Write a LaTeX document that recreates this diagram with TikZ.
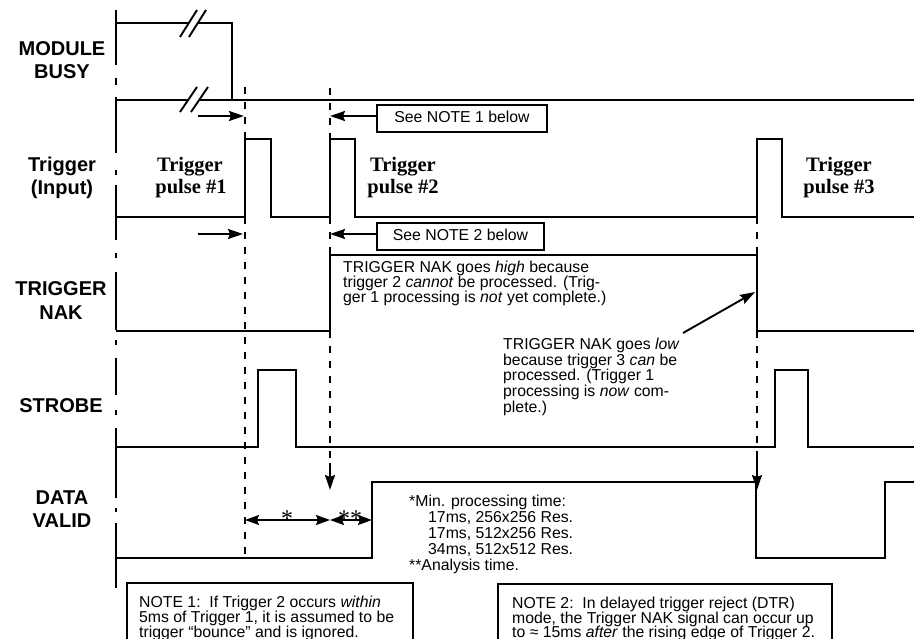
\documentclass[tikz,border=0pt]{standalone}
\usepackage{fontspec}
\setmainfont{Liberation Sans}
\newfontfamily\tmsfont{Liberation Serif}
\usetikzlibrary{arrows.meta}
\begin{document}
\begin{tikzpicture}[x=1pt,y=-1pt,
  sig/.style={line width=2.1pt, line join=miter},
  axis/.style={line width=2.1pt},
  dsh/.style={line width=2pt, dash pattern=on 7pt off 8pt},
  tipped/.style={line width=1.9pt, -{Stealth[length=15pt,width=10pt,inset=2pt]}},
  dtipped/.style={line width=1.9pt, {Stealth[length=14pt,width=10pt,inset=2pt]}-{Stealth[length=14pt,width=10pt,inset=2pt]}},
  lbl/.style={font=\fontsize{20}{23}\selectfont\bfseries, inner sep=0pt, anchor=base},
  tp/.style={font=\tmsfont\fontsize{20.5}{21}\selectfont\bfseries, inner sep=0pt, anchor=base},
  txt/.style={font=\fontsize{15.8}{15}\selectfont, inner sep=0pt, anchor=base west},
  ctxt/.style={font=\fontsize{15.8}{15}\selectfont, inner sep=0pt, anchor=base},
  startxt/.style={font=\tmsfont\fontsize{24}{24}\selectfont, inner sep=0pt, anchor=base},
  notebox/.style={draw, line width=1.9pt}
]
\useasboundingbox (0,0) rectangle (914,639);

% ---------- left axis ----------
\foreach \a/\b in {10/65,97/153,185/240,272/330,358/395,428/498,523/588}
  \draw[axis] (116,\a) -- (116,\b);
\foreach \a/\b in {78/85,170/175,253/258,340/345,410/415,508/512}
  \draw[axis] (116,\a) -- (116,\b);

% ---------- labels ----------
\node[lbl] (lmod) at (62,56) {MODULE};
\node[lbl] (lbusy) at (62,79) {BUSY};
\node[lbl] (ltrig) at (62,172) {Trigger};
\node[lbl] (linp) at (62,195) {(Input)};
\node[lbl] (lnak1) at (61,296) {TRIGGER};
\node[lbl] (lnak2) at (61,320) {NAK};
\node[lbl] (lstr) at (61,412) {STROBE};
\node[lbl] (ldv1) at (62,504) {DATA};
\node[lbl] (ldv2) at (62,527) {VALID};

% ---------- MODULE BUSY ----------
\draw[sig] (116,23) -- (189,23);
\draw[sig] (198,23) -- (232,23) -- (232,100);
\draw[line width=1.9pt] (180,37) -- (197,10);
\draw[line width=1.9pt] (189,37) -- (206,10);
\draw[sig] (116,100) -- (188,100);
\draw[sig] (199,100) -- (914,100);
\draw[line width=1.9pt] (180,112) -- (197,87);
\draw[line width=1.9pt] (191,112) -- (208,87);

% ---------- Trigger ----------
\draw[sig] (116,217) -- (245,217) -- (245,139) -- (271,139) -- (271,217)
  -- (330,217) -- (330,139) -- (355,139) -- (355,217)
  -- (757,217) -- (757,139) -- (782,139) -- (782,217) -- (914,217);

% ---------- TRIGGER NAK ----------
\draw[sig] (116,331) -- (330,331) -- (330,255) -- (757,255) -- (757,331) -- (914,331);

% ---------- STROBE ----------
\draw[sig] (116,447) -- (258,447) -- (258,370) -- (296,370) -- (296,447)
  -- (775,447) -- (775,370) -- (808,370) -- (808,447) -- (914,447);

% ---------- DATA VALID ----------
\draw[sig] (116,558) -- (372,558) -- (372,482) -- (756,482) -- (756,558)
  -- (885,558) -- (885,482) -- (914,482);

% ---------- dashed guides ----------
\coordinate (g1top) at (245,87);
\coordinate (g1a) at (245,139);
\coordinate (g1b) at (245,217);
\coordinate (g1bot) at (245,558);
\draw[dsh] (g1top) -- (g1a);
\draw[dsh] (g1b) -- (g1bot);

\coordinate (g2top) at (330,88);
\coordinate (g2a) at (330,139);
\coordinate (g2b) at (330,217);
\coordinate (g2c) at (330,255);
\coordinate (g2d) at (330,331);
\coordinate (g2e) at (330,463);
\coordinate (g2tip) at (330,490);
\draw[dsh] (g2top) -- (g2a);
\draw[dsh] (g2b) -- (g2c);
\draw[dsh] (g2d) -- (g2e);
\draw[tipped] (g2e) -- (g2tip);

\coordinate (g3b) at (757,217);
\coordinate (g3c) at (757,255);
\coordinate (g3d) at (757,331);
\coordinate (g3e) at (757,458);
\coordinate (g3tip) at (757,490);
\draw[dsh] (g3b) -- (g3c);
\draw[dsh] (g3d) -- (g3e);
\draw[tipped] (g3e) -- (g3tip);

% ---------- small arrows to pulse 1 ----------
\coordinate (a1s) at (198,116);
\coordinate (a1e) at (244,116);
\draw[tipped] (a1s) -- (a1e);
\coordinate (a2s) at (198,234);
\coordinate (a2e) at (243,234);
\draw[tipped] (a2s) -- (a2e);

% ---------- See NOTE boxes ----------
\node[notebox, minimum width=170pt, minimum height=27pt, inner sep=0pt] (see1) at (462,118.5) {};
\node[ctxt] (see1t) at (462,122.5) {See NOTE 1 below};
\coordinate (see1tip) at (330,116);
\draw[tipped] (see1.west |- see1tip) -- (see1tip);

\node[notebox, minimum width=167pt, minimum height=27pt, inner sep=0pt] (see2) at (460.5,236.5) {};
\node[ctxt] (see2t) at (460.5,241) {See NOTE 2 below};
\coordinate (see2tip) at (330,234);
\draw[tipped] (see2.west |- see2tip) -- (see2tip);

% ---------- pulse labels ----------
\node[tp] (p1a) at (190,172) {Trigger};
\node[tp] (p1b) at (191,194) {pulse \#1};
\node[tp] (p2a) at (403,172) {Trigger};
\node[tp] (p2b) at (403,194) {pulse \#2};
\node[tp] (p3a) at (839,172) {Trigger};
\node[tp] (p3b) at (839,194) {pulse \#3};

% ---------- NAK high text ----------
\node[txt] (h1) at (343,273) {TRIGGER NAK goes \textit{high} because};
\node[txt] (h2) at (343,288) {trigger 2 \textit{cannot} be processed. (Trig-};
\node[txt] (h3) at (343,303) {ger 1 processing is \textit{not} yet complete.)};

% ---------- NAK low text ----------
\node[txt] (l1) at (503,350) {TRIGGER NAK goes \textit{low}};
\node[txt] (l2) at (503,366) {because trigger 3 \textit{can} be};
\node[txt] (l3) at (503,381) {processed. (Trigger 1};
\node[txt] (l4) at (503,396) {processing is \textit{now} com-};
\node[txt] (l5) at (503,412) {plete.)};
\coordinate (lowtail) at (683,333);
\coordinate (lowtip) at (755,292);
\draw[tipped] (lowtail) -- (lowtip);

% ---------- processing time ----------
\coordinate (d1) at (245,520);
\coordinate (d2) at (330,520);
\coordinate (d3) at (372,520);
\draw[dtipped] (d1) -- (d2);
\draw[dtipped] (d2) -- (d3);
\node[startxt] (st1) at (287,526) {*};
\node[startxt] (st2) at (350,526) {**};

\node[txt] (m1) at (409,506) {*Min. processing time:};
\node[txt] (m2) at (428,522) {17ms, 256x256 Res.};
\node[txt] (m3) at (428,538) {17ms, 512x256 Res.};
\node[txt] (m4) at (428,554) {34ms, 512x512 Res.};
\node[txt] (m5) at (409,570) {**Analysis time.};

% ---------- NOTE boxes ----------
\draw[line width=1.9pt] (127,645) -- (127,583) -- (413,583) -- (413,645);
\node[txt] (n11) at (139,607) {NOTE 1:\ \ If Trigger 2 occurs \textit{within}};
\node[txt] (n12) at (139,622) {5ms of Trigger 1, it is assumed to be};
\node[txt] (n13) at (139,637) {trigger “bounce” and is ignored.};

\draw[line width=1.9pt] (498,645) -- (498,584) -- (832,584) -- (832,645);
\node[txt] (n21) at (512,608) {NOTE 2:\ \ In delayed trigger reject (DTR)};
\node[txt] (n22) at (512,623) {mode, the Trigger NAK signal can occur up};
\node[txt] (n23) at (512,637.5) {to ≈ 15ms \textit{after} the rising edge of Trigger 2.};
\end{tikzpicture}
\end{document}
